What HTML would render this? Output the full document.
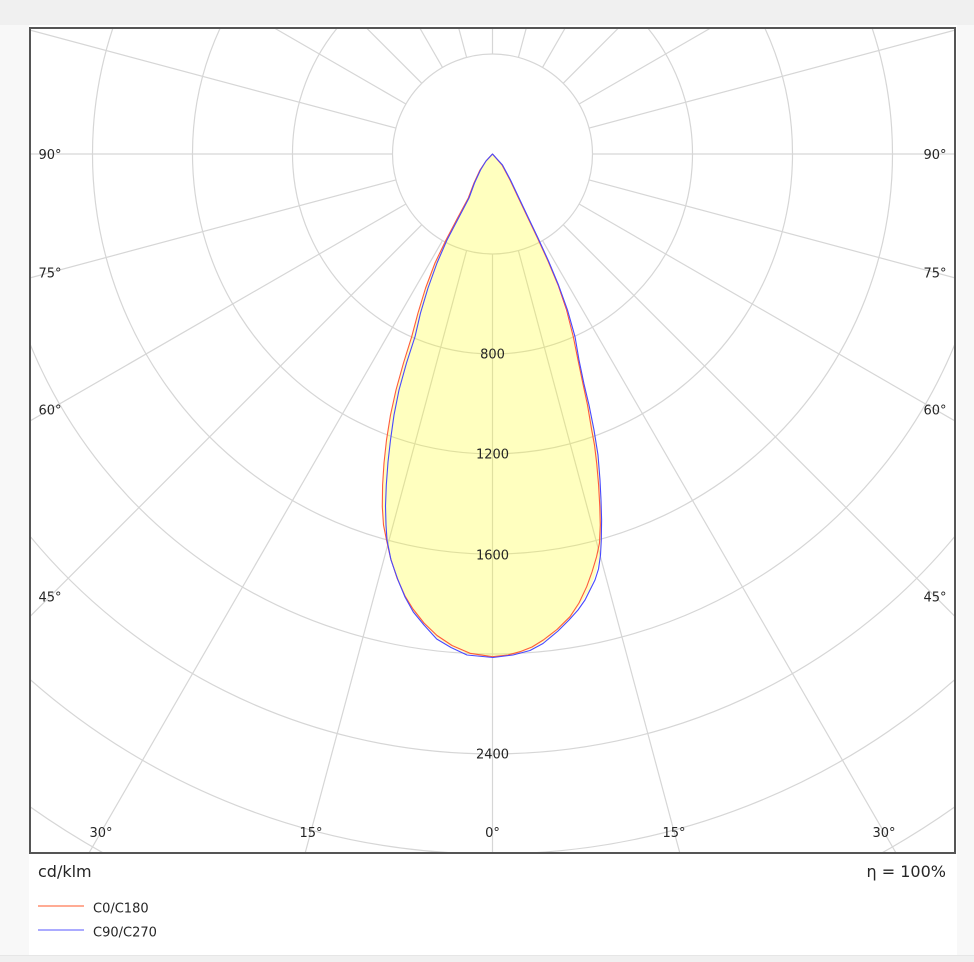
<!DOCTYPE html>
<html>
<head>
<meta charset="utf-8">
<style>
  html,body{margin:0;padding:0;background:#f0f0f0;width:974px;height:962px;overflow:hidden;}
  svg{position:absolute;left:0;top:0;display:block;overflow:hidden;}
  text{font-family:"DejaVu Sans","Liberation Sans",sans-serif;fill:#262626;}
</style>
</head>
<body>
<svg width="974" height="962" viewBox="0 0 974 962" xmlns="http://www.w3.org/2000/svg">
  <defs>
    <clipPath id="plot">
      <rect x="30" y="28" width="925" height="825"/>
    </clipPath>
  </defs>
  <rect x="0" y="0" width="974" height="962" fill="#f0f0f0"/>
  <rect x="0" y="25" width="974" height="930" fill="#f8f8f8"/>
  <rect x="29" y="25" width="928" height="930" fill="#ffffff"/>
  <line x1="0" y1="955.5" x2="974" y2="955.5" stroke="#e6e6e6" stroke-width="1"/>

  <g clip-path="url(#plot)">
    <g fill="none" stroke="#d6d6d6" stroke-width="1.2">
      <circle cx="492.5" cy="154" r="100"/>
      <path d="M337.2,28 A200,200 0 1,0 647.8,28"/>
      <path d="M220.2,28 A300,300 0 1,0 764.8,28"/>
      <path d="M112.9,28 A400,400 0 1,0 872.1,28"/>
      <path d="M30,344 A500,500 0 0,0 955,344"/>
      <path d="M30,536.2 A600,600 0 0,0 955,536.2"/>
      <path d="M30,679.4 A700,700 0 0,0 955,679.4"/>
      <path d="M30,806.8 A800,800 0 0,0 955,806.8"/>
    </g>
    <g stroke="#d6d6d6" stroke-width="1.2">
      <line x1="592.5" y1="154" x2="955" y2="154"/>
      <line x1="589.1" y1="179.9" x2="955" y2="277.9"/>
      <line x1="579.1" y1="204" x2="955" y2="421"/>
      <line x1="563.2" y1="224.7" x2="955" y2="616.5"/>
      <line x1="542.5" y1="240.6" x2="896.6" y2="854"/>
      <line x1="518.4" y1="250.6" x2="680.1" y2="854"/>
      <line x1="492.5" y1="254" x2="492.5" y2="854"/>
      <line x1="466.6" y1="250.6" x2="304.9" y2="854"/>
      <line x1="442.5" y1="240.6" x2="88.4" y2="854"/>
      <line x1="421.8" y1="224.7" x2="30" y2="616.5"/>
      <line x1="405.9" y1="204" x2="30" y2="421"/>
      <line x1="395.9" y1="179.9" x2="30" y2="277.9"/>
      <line x1="392.5" y1="154" x2="30" y2="154"/>
      <line x1="395.9" y1="128.1" x2="30" y2="30.1"/>
      <line x1="405.9" y1="104" x2="274.3" y2="28"/>
      <line x1="421.8" y1="83.3" x2="366.5" y2="28"/>
      <line x1="442.5" y1="67.4" x2="419.8" y2="28"/>
      <line x1="466.6" y1="57.4" x2="458.7" y2="28"/>
      <line x1="492.5" y1="54" x2="492.5" y2="28"/>
      <line x1="518.4" y1="57.4" x2="526.3" y2="28"/>
      <line x1="542.5" y1="67.4" x2="565.2" y2="28"/>
      <line x1="563.2" y1="83.3" x2="618.5" y2="28"/>
      <line x1="579.1" y1="104" x2="710.7" y2="28"/>
      <line x1="589.1" y1="128.1" x2="955" y2="30.1"/>
    </g>

    <path fill="#ffff00" fill-opacity="0.25" stroke="none"
      d="M492.5,154 L486,161 L480,170 L474,183 L468.3,198 L457,219 L446,240 L435,263 L426,288 L418,313 L412,336.7 L404,363 L396.5,390 L391,415 L387,440 L384.5,463 L383,485 L382.5,506.7 L384,525 L386.7,540 L391,560 L398,580 L406,598 L414,612 L425,625 L437,638 L452,647 L468,654 L492.5,657.3 L515,654 L531,649 L545,641 L559,629 L571,617 L581,603 L590,589 L596,572 L600,556 L601.5,538 L601.5,510 L600.5,482 L598.5,458 L595,437 L591,418 L587,398 L582,376 L577,353 L571,330 L564,306 L556,282 L547,259 L537,237 L527,216 L518,197 L510,180 L502,165 Z"/>

    <path fill="none" stroke="#ff5a3c" stroke-width="1.1" stroke-linejoin="round"
      d="M492.5,154 L486,161 L480,170 L474,183 L468.3,198 L457,219 L446,240 L435,263 L425.6,288 L418,313 L411.7,336.7 L403.5,363 L396,390 L390.5,415 L386.5,440 L384,463 L382.6,485 L382.3,506.7 L383.5,525 L386.5,540 L390.5,558 L397,578 L405,596 L413,609 L424,623 L437,635.5 L452,645.5 L470,653.3 L492.5,656.7 L508,655 L520,651.7 L532,647 L543.3,640 L557,629.5 L570,616.7 L579,603 L586.7,586.7 L592,572 L596.5,557 L599.5,543 L600.3,525 L599.8,506.7 L598.6,485 L596.7,463.3 L594.5,445 L591.7,430 L587.5,405 L583,384 L578,360 L573.3,336.7 L566.5,310 L558,285 L548,261 L537,237 L527,216 L518,197 L510,180 L502,165 Z"/>

    <path fill="none" stroke="#4848ff" stroke-width="1.1" stroke-linejoin="round"
      d="M492.5,154 L486,161 L480.5,170 L474.5,183 L469,198 L458,219 L447,240 L437,263 L428,288 L420.5,313 L415,336.7 L406.5,363 L399,390 L394,415 L390.5,440 L388,462 L386.3,485 L385.5,506 L386,525 L387,540 L391,560 L398,580 L405,597 L413.3,612 L424,625 L436.7,639 L451,647.5 L467,655 L493,657.5 L513,655 L530,650.5 L543,643.5 L558,631 L569,620 L578,610 L585,600 L590,590 L595,580 L598.5,569 L600.5,555 L601.3,540 L601.6,520 L601,500 L600,480 L598,455 L594,430 L589,405 L584,384 L579,360 L575,336.7 L567.5,310 L558.5,285 L548.5,261 L538,238 L528,217 L519,198 L510.5,180 L502.5,165 Z"/>

    <g font-size="13" text-anchor="middle">
      <text x="492.5" y="358.5">800</text>
      <text x="492.5" y="458.5">1200</text>
      <text x="492.5" y="559.5">1600</text>
      <text x="492.5" y="758.5">2400</text>
    </g>

    <g font-size="13" text-anchor="middle">
      <text x="50" y="159">90°</text>
      <text x="50" y="277.5">75°</text>
      <text x="50" y="414.5">60°</text>
      <text x="50" y="601.5">45°</text>
      <text x="935" y="159">90°</text>
      <text x="935" y="277.5">75°</text>
      <text x="935" y="414.5">60°</text>
      <text x="935" y="601.5">45°</text>
      <text x="101" y="837">30°</text>
      <text x="311" y="837">15°</text>
      <text x="492.5" y="837">0°</text>
      <text x="674" y="837">15°</text>
      <text x="884" y="837">30°</text>
    </g>
  </g>

  <rect x="30" y="28" width="925" height="825" fill="none" stroke="#555555" stroke-width="2"/>

  <text x="38" y="877" font-size="16">cd/klm</text>
  <text x="946" y="877" font-size="16" text-anchor="end">η = 100%</text>

  <line x1="38" y1="906" x2="84" y2="906" stroke="#ff8f70" stroke-width="1.5"/>
  <text x="93" y="912.5" font-size="13">C0/C180</text>
  <line x1="38" y1="930" x2="84" y2="930" stroke="#8f8fff" stroke-width="1.5"/>
  <text x="93" y="936.5" font-size="13">C90/C270</text>
</svg>
</body>
</html>
